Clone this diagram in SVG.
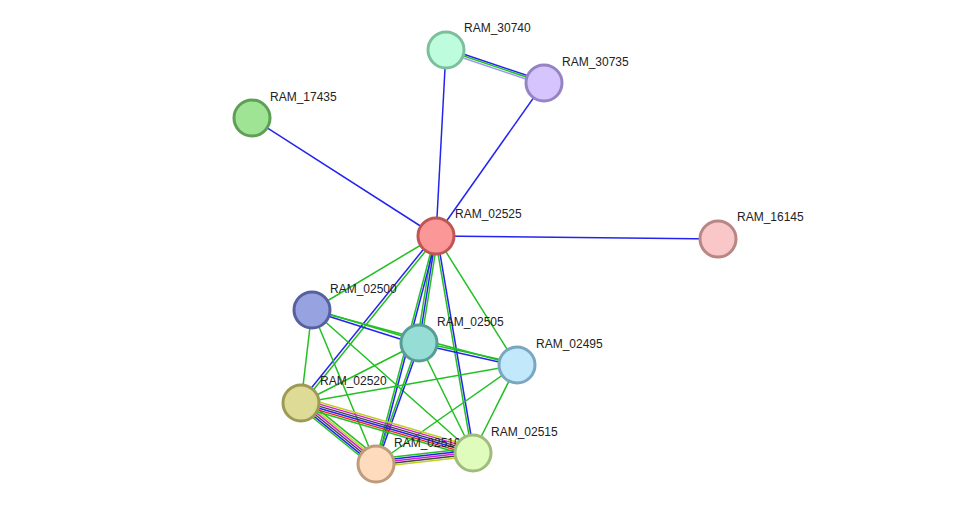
<svg xmlns="http://www.w3.org/2000/svg" width="975" height="510" viewBox="0 0 975 510">
<style>
line{stroke-width:1.5}
.g{stroke:#22c022}.b{stroke:#2424f0}.lb{stroke:#9a9af5}.k{stroke:#444}.m{stroke:#d020d0}.y{stroke:#c0d020}.r{stroke:#f02020}
circle{stroke-width:3}
text{font-family:"Liberation Sans",Arial,sans-serif;font-size:12px;fill:#222}
</style>
<rect width="975" height="510" fill="#fff"/>
<g id="edges">
<line class="b" x1="445.4" y1="48" x2="543.4" y2="81"/>
<line class="g" x1="446" y1="50" x2="544" y2="83"/>
<line class="lb" x1="445.4" y1="52" x2="543.4" y2="85"/>
<line class="b" x1="446" y1="50" x2="436" y2="236"/>
<line class="b" x1="544" y1="83" x2="436" y2="236"/>
<line class="b" x1="252" y1="118" x2="436" y2="236"/>
<line class="b" x1="718" y1="239" x2="436" y2="236"/>
<line class="g" x1="436" y1="236" x2="312" y2="310"/>
<line class="g" x1="434" y1="236" x2="417" y2="343"/>
<line class="b" x1="436" y1="236" x2="419" y2="343"/>
<line class="g" x1="438" y1="236" x2="421" y2="343"/>
<line class="g" x1="436" y1="236" x2="517" y2="365"/>
<line class="b" x1="435" y1="235" x2="300" y2="402"/>
<line class="g" x1="437" y1="237" x2="302" y2="404"/>
<line class="g" x1="435" y1="236" x2="375" y2="464"/>
<line class="b" x1="437" y1="236" x2="377" y2="464"/>
<line class="g" x1="435" y1="236" x2="472" y2="453"/>
<line class="b" x1="437" y1="236" x2="474" y2="453"/>
<line class="g" x1="312" y1="309" x2="419" y2="341"/>
<line class="b" x1="312" y1="311" x2="419" y2="345"/>
<line class="g" x1="419" y1="342" x2="517" y2="363"/>
<line class="b" x1="419" y1="344" x2="517" y2="366"/>
<line class="g" x1="312" y1="310" x2="517" y2="365"/>
<line class="g" x1="312" y1="310" x2="301" y2="403"/>
<line class="g" x1="312" y1="310" x2="376" y2="464"/>
<line class="g" x1="312" y1="310" x2="473" y2="453"/>
<line class="g" x1="419" y1="343" x2="301" y2="403"/>
<line class="g" x1="418" y1="343" x2="375" y2="464"/>
<line class="b" x1="420" y1="343" x2="377" y2="464"/>
<line class="g" x1="419" y1="343" x2="473" y2="453"/>
<line class="g" x1="517" y1="365" x2="301" y2="403"/>
<line class="g" x1="517" y1="365" x2="376" y2="464"/>
<line class="g" x1="517" y1="365" x2="473" y2="453"/>
<line class="g" x1="304.8" y1="398.4" x2="379.8" y2="459.4"/>
<line class="y" x1="303.5" y1="400" x2="378.5" y2="461"/>
<line class="m" x1="302.3" y1="401.4" x2="377.3" y2="462.4"/>
<line class="k" x1="301" y1="403" x2="376" y2="464"/>
<line class="b" x1="299.7" y1="404.6" x2="374.7" y2="465.6"/>
<line class="g" x1="298.5" y1="406" x2="373.5" y2="467"/>
<line class="y" x1="302.7" y1="397.2" x2="474.7" y2="447.2"/>
<line class="m" x1="302.1" y1="399.1" x2="474.1" y2="449.1"/>
<line class="k" x1="301.6" y1="401.1" x2="473.6" y2="451.1"/>
<line class="b" x1="301" y1="403" x2="473" y2="453"/>
<line class="r" x1="300.4" y1="404.9" x2="472.4" y2="454.9"/>
<line class="g" x1="299.9" y1="406.8" x2="471.9" y2="456.8"/>
<line class="g" x1="375.6" y1="459" x2="472.6" y2="448"/>
<line class="b" x1="375.8" y1="461" x2="472.8" y2="450"/>
<line class="m" x1="376" y1="463" x2="473" y2="452"/>
<line class="k" x1="376.2" y1="465" x2="473.2" y2="454"/>
<line class="y" x1="376.4" y1="467" x2="473.4" y2="456"/>
</g>
<g id="n30740"><circle cx="446" cy="50" r="18" fill="#bdfcdc" stroke="#7cbf9c"/><text x="464" y="32">RAM_30740</text></g>
<g id="n30735"><circle cx="544" cy="83" r="18" fill="#d5c5fc" stroke="#9584c4"/><text x="562" y="66">RAM_30735</text></g>
<g id="n17435"><circle cx="252" cy="118" r="18" fill="#9fe395" stroke="#5e9f55"/><text x="270" y="101">RAM_17435</text></g>
<g id="n02525"><circle cx="436" cy="236" r="18" fill="#fc9797" stroke="#c05555"/><text x="455" y="218">RAM_02525</text></g>
<g id="n16145"><circle cx="718" cy="239" r="18" fill="#f9c7c7" stroke="#b98585"/><text x="737" y="221">RAM_16145</text></g>
<g id="n02500"><circle cx="312" cy="310" r="18" fill="#97a2e0" stroke="#56609f"/><text x="330" y="293">RAM_02500</text></g>
<g id="n02505"><circle cx="419" cy="343" r="18" fill="#95ddd5" stroke="#569d95"/><text x="437" y="326">RAM_02505</text></g>
<g id="n02495"><circle cx="517" cy="365" r="18" fill="#c2e8fc" stroke="#7aa6bf"/><text x="536" y="348">RAM_02495</text></g>
<g id="n02520"><circle cx="301" cy="403" r="18" fill="#dedb97" stroke="#9d9a55"/><text x="320" y="385">RAM_02520</text></g>
<g id="n02510"><circle cx="376" cy="464" r="18" fill="#fddbbc" stroke="#bd9b7c"/><text x="394" y="447">RAM_02510</text></g>
<g id="n02515"><circle cx="473" cy="453" r="18" fill="#e0fcbc" stroke="#a0bc7c"/><text x="491" y="436">RAM_02515</text></g>
</svg>
